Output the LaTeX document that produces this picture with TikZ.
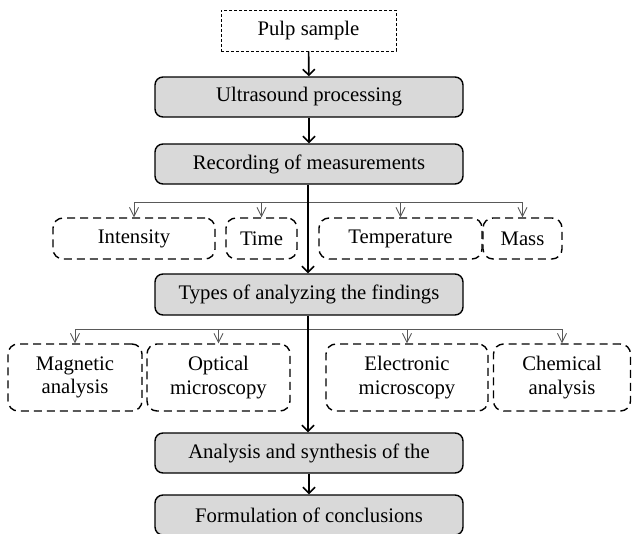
\documentclass[tikz,border=0pt]{standalone}
\usepackage{fontspec}
\setmainfont{Liberation Serif}
\usetikzlibrary{arrows.meta}

\tikzset{
  stepgray/.style={draw=black, line width=1.4pt, fill=gray!30, rounded corners=8pt,
    minimum width=308pt, minimum height=40pt, inner sep=0pt},
  sampbox/.style={draw=black, line width=1pt, dash pattern=on 3pt off 2pt,
    minimum width=175pt, minimum height=41pt, inner sep=0pt},
  parbox/.style={draw=black, line width=1.4pt, dash pattern=on 8pt off 5pt, rounded corners=10pt,
    minimum height=41pt, inner sep=0pt, align=center},
  mainarrow/.style={line width=1.6pt, -{Straight Barb[length=6pt,width=12pt,line width=1.6pt]}},
  busline/.style={draw=gray!70!black, line width=0.9pt},
  busarrow/.style={draw=gray!70!black, line width=0.9pt, -{Straight Barb[length=9pt,width=9pt,line width=0.9pt]}}
}

\begin{document}
\begin{tikzpicture}[x=1pt, y=-1pt, font=\fontsize{20.7}{23.5}\selectfont]
		\useasboundingbox (0,0) rectangle (632,533);
		% main chain
		\node [sampbox] (pulp) at (308.5,30.5) {Pulp sample};
		\node [stepgray] (ultra) at (309,97) {Ultrasound processing};
		\node [stepgray] (record) at (309,164) {Recording of measurements};
		\node [stepgray, minimum height=41pt] (types) at (309,294.5) {Types of analyzing the findings};
		\node [stepgray] (analysis) at (309,453) {Analysis and synthesis of the};
		\node [stepgray] (concl) at (309,515) {Formulation of conclusions};
		% measured quantities
		\node [parbox, minimum width=162pt] (intensity) at (134,238.5) {Intensity};
		\node [parbox, minimum width=71pt] (time) at (261.5,238.5) {Time};
		\node [parbox, minimum width=163pt] (temp) at (400.5,238.5) {Temperature};
		\node [parbox, minimum width=79pt] (mass) at (522.5,238.5) {Mass};
		% kinds of analysis
		\node [parbox, minimum width=134pt, minimum height=67pt] (magnetic) at (75,377.5) {Magnetic\\analysis};
		\node [parbox, minimum width=143pt, minimum height=67pt] (optical) at (218.5,377.5) {Optical\\microscopy};
		\node [parbox, minimum width=162pt, minimum height=67pt] (electronic) at (407,377.5) {Electronic\\microscopy};
		\node [parbox, minimum width=137pt, minimum height=67pt] (chemical) at (562,377.5) {Chemical\\analysis};
		\coordinate (busA) at (308,202);
		\coordinate (busB) at (308,329);
		% branches
		\draw [busline] (intensity.north |- busA) -- (mass.north |- busA);
		\foreach \n in {intensity,time,temp,mass}
			\draw [busarrow] (\n.north |- busA) -- (\n.north);
		\draw [busline] (magnetic.north |- busB) -- (chemical.north |- busB);
		\foreach \n in {magnetic,optical,electronic,chemical}
			\draw [busarrow] (\n.north |- busB) -- (\n.north);
		% main arrows
		\draw [mainarrow] (pulp) -- (ultra);
		\draw [mainarrow] (ultra) -- (record);
		\draw [mainarrow] (record.south -| busA) -- (types.north -| busA);
		\draw [mainarrow] (types.south -| busB) -- (analysis.north -| busB);
		\draw [mainarrow] (analysis) -- (concl);
\end{tikzpicture}
\end{document}
